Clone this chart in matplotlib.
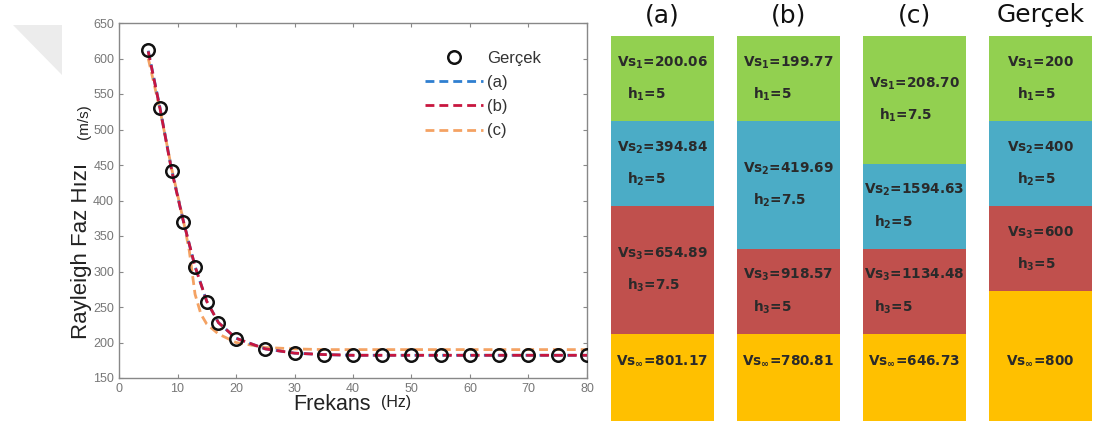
import matplotlib.pyplot as plt
import numpy as np
from matplotlib.patches import Polygon

plt.rcParams['mathtext.default'] = 'bf'

# dispersion curves
f_true = [5, 7, 9, 11, 13, 15, 17, 20, 25, 30, 35, 40, 45, 50, 55, 60, 65, 70, 75, 80]
v_true = [612, 530, 442, 370, 306, 257, 227, 205, 191, 185, 183, 182.5, 182, 182, 182, 182, 182, 182, 182, 182]
v_a = [611, 531, 443, 371, 307, 258, 228, 206, 191, 185, 183, 182, 182, 182, 182, 182, 182, 182, 182, 182]
v_b = [610, 530, 442, 371, 307, 258, 228, 206, 191, 185, 183, 182, 182, 182, 182, 182, 182, 182, 182, 182]
f_c = [5, 7, 9, 11, 12, 13, 14, 15, 17, 20, 25, 30, 35, 40, 45, 50, 55, 60, 65, 70, 75, 80]
v_c = [600, 528, 445, 372, 330, 268, 240, 226, 212, 200, 193, 191, 190, 190, 190, 190, 190, 190, 190, 190, 190, 190]

# layered models
models = ['(a)', '(b)', '(c)', 'Gerçek']
vs = [['200.06', '394.84', '654.89'],
      ['199.77', '419.69', '918.57'],
      ['208.70', '1594.63', '1134.48'],
      ['200', '400', '600']]
h = [[5, 5, 7.5],
     [5, 7.5, 5],
     [7.5, 5, 5],
     [5, 5, 5]]
vs_inf = ['801.17', '780.81', '646.73', '800']
layer_colors = ['#92d050', '#4bacc6', '#c0504d']
half_color = '#ffc000'

W, H = 1094, 421
fig = plt.figure(figsize=(W / 100, H / 100), dpi=100)

# faint corner mark
tri = Polygon([[13 / W, 1 - 25 / H], [62 / W, 1 - 25 / H], [62 / W, 1 - 75 / H]],
              closed=True, transform=fig.transFigure, facecolor='#ececec', edgecolor='none')
fig.patches.append(tri)

ax = fig.add_axes([119 / W, 1 - 378 / H, 468 / W, 355 / H])
ax.plot(f_c, v_c, color='#f4a263', lw=2, dashes=(3.2, 1.8), label='(c)', zorder=2)
ax.plot(f_true, v_a, color='#2f7fd0', lw=2, dashes=(3.2, 1.8), label='(a)', zorder=3)
ax.plot(f_true, v_b, color='#c8163f', lw=2, dashes=(3.2, 1.8), label='(b)', zorder=4)
ax.plot(f_true, v_true, 'o', ms=9, mfc='none', mec='#111111', mew=1.8, label='Gerçek', zorder=5)
ax.set_xlim(0, 80)
ax.set_ylim(150, 650)
ax.set_xticks(np.arange(0, 81, 10))
ax.set_yticks(np.arange(150, 651, 50))
ax.tick_params(direction='in', top=True, right=True, length=3, colors='#888888',
               labelcolor='#777777', labelsize=9)
for s in ax.spines.values():
    s.set_color('#888888')
    s.set_linewidth(1)
for t in ax.get_xticklabels() + ax.get_yticklabels():
    t.set_family('Liberation Sans')

hd, lb = ax.get_legend_handles_labels()
order = [3, 1, 2, 0]
ax.legend([hd[i] for i in order], [lb[i] for i in order], loc='upper left',
          bbox_to_anchor=((410 - 119) / 468, 1 - (36 - 23) / 355), frameon=False,
          prop={'family': 'Liberation Sans', 'size': 12}, handlelength=3.5,
          handletextpad=0.2, labelspacing=0.55, labelcolor='#333333')

fig.text(82 / W, 1 - 251 / H, 'Rayleigh Faz Hızı', rotation=90, ha='center', va='center',
         family='Liberation Sans', fontsize=16, color='#222222')
fig.text(84 / W, 1 - 122 / H, '(m/s)', rotation=90, ha='center', va='center',
         family='Liberation Sans', fontsize=11, color='#222222')
fig.text(332 / W, 1 - 405 / H, 'Frekans', ha='center', va='center',
         family='Liberation Sans', fontsize=15.5, color='#222222')
fig.text(396 / W, 1 - 403 / H, '(Hz)', ha='center', va='center',
         family='Liberation Sans', fontsize=11.5, color='#222222')

# layer columns
px_m = 17.0
bx = fig.add_axes([611 / W, 0, (1092 - 611) / W, (H - 36) / H])
bw = 103 / 126
bx.set_xlim(-bw / 2, 3 + bw / 2)
depth_max = (H - 36) / px_m
bx.set_ylim(depth_max, 0)
bx.axis('off')

txt_kw = dict(fontsize=9.8, fontweight='bold', color='#2a2a2a', family='DejaVu Sans')
renderer = fig.canvas.get_renderer()
half_y = max(sum(c) for c in h) + 1.6
for i, name in enumerate(models):
    top = 0
    for j in range(3):
        bx.bar(i, h[i][j], bottom=top, width=bw, color=layer_colors[j], edgecolor='none')
        mid = top + h[i][j] / 2
        t1 = bx.annotate('Vs$_{%d}$=%s' % (j + 1, vs[i][j]), (i, mid), xytext=(0, 11.5),
                         textcoords='offset points', ha='center', va='center', **txt_kw)
        x0 = t1.get_window_extent(renderer).x0 + 10
        xd = bx.transData.inverted().transform((x0, 0))[0]
        bx.annotate('h$_{%d}$=%s' % (j + 1, ('%g' % h[i][j])), (xd, mid), xytext=(0, -11.5),
                    textcoords='offset points', ha='left', va='center', **txt_kw)
        top += h[i][j]
    bx.bar(i, depth_max - top, bottom=top, width=bw, color=half_color, edgecolor='none')
    bx.text(i, half_y, r'Vs$_{\infty}$=%s' % vs_inf[i], ha='center', va='center', **txt_kw)
    bx.text(i, -21 / px_m, name, ha='center', va='center', fontsize=18,
            color='#111111', family='DejaVu Sans')

fig.savefig('out.png', dpi=100)
